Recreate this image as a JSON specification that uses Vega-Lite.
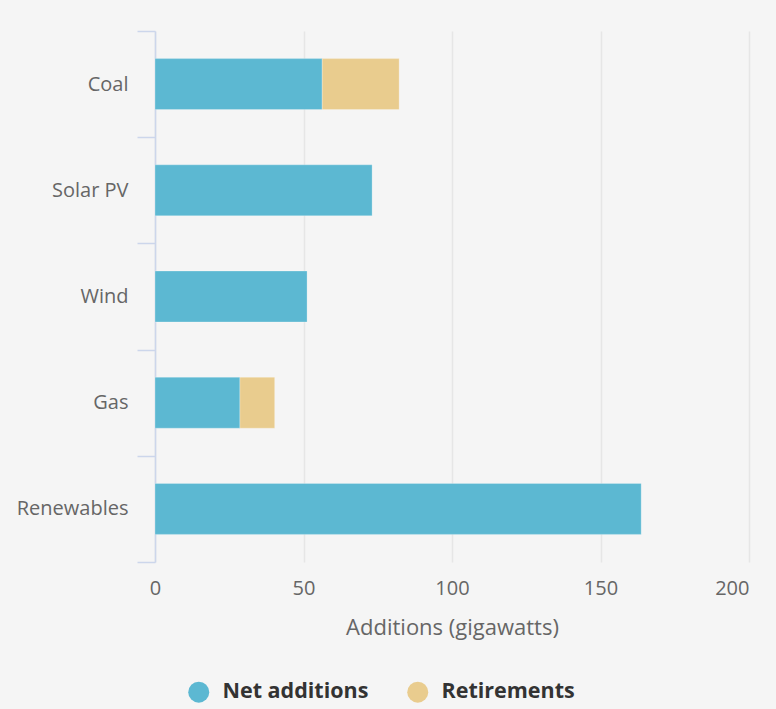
{
  "$schema": "https://vega.github.io/schema/vega-lite/v6.json",
  "width": 594,
  "height": 531,
  "autosize": {"type": "none"},
  "padding": {"left": 155, "top": 31, "right": 27, "bottom": 147},
  "background": "#f5f5f5",
  "data": {
    "values": [
      {"source": "Coal", "type": "Net additions", "gw": 56.3},
      {"source": "Coal", "type": "Retirements", "gw": 25.9},
      {"source": "Solar PV", "type": "Net additions", "gw": 73.1},
      {"source": "Wind", "type": "Net additions", "gw": 51.2},
      {"source": "Gas", "type": "Net additions", "gw": 28.6},
      {"source": "Gas", "type": "Retirements", "gw": 11.7},
      {"source": "Renewables", "type": "Net additions", "gw": 163.7}
    ]
  },
  "mark": {"type": "bar", "height": {"band": 0.48}, "stroke": "#ffffff", "strokeOpacity": 0.25, "strokeWidth": 1},
  "encoding": {
    "y": {
      "field": "source",
      "type": "nominal",
      "sort": ["Coal", "Solar PV", "Wind", "Gas", "Renewables"],
      "scale": {"paddingInner": 0, "paddingOuter": 0},
      "axis": {
        "title": null,
        "tickBand": "extent",
        "domainColor": "#ccd6eb",
        "domainWidth": 1.5,
        "tickColor": "#ccd6eb",
        "tickWidth": 1.5,
        "tickSize": 18,
        "labelPadding": 9,
        "labelFont": "Open Sans",
        "labelFontSize": 20,
        "labelColor": "#666666",
        "grid": false
      }
    },
    "x": {
      "field": "gw",
      "type": "quantitative",
      "stack": "zero",
      "scale": {"domain": [0, 200], "nice": false},
      "axis": {
        "title": "Additions (gigawatts)",
        "values": [0, 50, 100, 150, 200],
        "domain": false,
        "ticks": false,
        "grid": true,
        "gridColor": "#e6e6e6",
        "gridWidth": 1.5,
        "labelFont": "Open Sans",
        "labelFontSize": 20,
        "labelColor": "#666666",
        "labelPadding": 16,
        "labelAlign": {"condition": {"test": "datum.value == 200", "value": "right"}, "value": "center"},
        "titleFont": "Open Sans",
        "titleFontSize": 22,
        "titleFontWeight": "normal",
        "titleColor": "#666666",
        "titlePadding": 19
      }
    },
    "color": {
      "field": "type",
      "type": "nominal",
      "scale": {"domain": ["Net additions", "Retirements"], "range": ["#5cb8d2", "#e9cc8e"]},
      "legend": {
        "title": null,
        "orient": "none",
        "direction": "horizontal",
        "legendX": 33,
        "legendY": 650,
        "padding": 0,
        "symbolType": "circle",
        "symbolSize": 441,
        "symbolStrokeWidth": 0,
        "symbolOpacity": 1,
        "labelFont": "Open Sans",
        "labelFontSize": 21.5,
        "labelFontWeight": "bold",
        "labelColor": "#333333",
        "labelOffset": 13,
        "columnPadding": 38,
        "labelLimit": 300
      }
    },
    "order": {"field": "type", "sort": "ascending"}
  },
  "config": {
    "view": {"stroke": null}
  }
}
